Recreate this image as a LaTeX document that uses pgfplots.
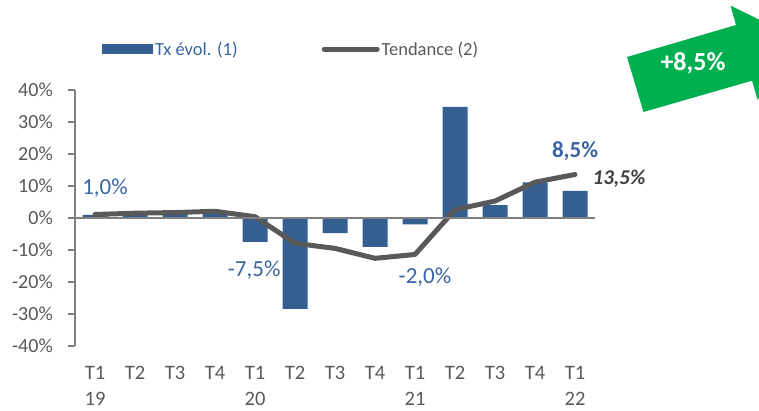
\documentclass[border=0pt]{standalone}
\usepackage{pgfplots}
\pgfplotsset{compat=1.18}
\usepackage{fontspec}
\setmainfont{Carlito}
\definecolor{barblue}{HTML}{365F91}
\definecolor{trendgray}{HTML}{595959}
\definecolor{axgray}{HTML}{808080}
\definecolor{txtgray}{HTML}{595959}
\definecolor{labblue}{HTML}{3A64A0}
\definecolor{arrgreen}{HTML}{00B050}
\begin{document}
\begin{tikzpicture}[x=1pt,y=1pt]
\useasboundingbox (0,0) rectangle (759,411);
\begin{axis}[
  at={(75pt,65pt)}, anchor=south west,
  scale only axis, width=520pt, height=256pt,
  xmin=-0.5, xmax=12.5, ymin=-40, ymax=40,
  axis y line*=left, axis x line*=bottom,
  x axis line style={draw=none},
  y axis line style={draw=axgray, line width=2pt, -},
  xtick={0,...,12},
  xticklabels={{T1\\19},T2,T3,T4,{T1\\20},T2,T3,T4,{T1\\21},T2,T3,T4,{T1\\22}},
  xtick style={draw=none},
  xticklabel style={font=\fontsize{20.5}{26}\selectfont, text=txtgray, align=center, inner sep=0pt, anchor=north, yshift=-13pt},
  ytick={-40,-30,...,40},
  yticklabels={-40\%,-30\%,-20\%,-10\%,0\%,10\%,20\%,30\%,40\%},
  ytick style={draw=axgray, line width=2pt},
  tick align=outside, major tick length=7pt,
  yticklabel style={font=\fontsize{20}{24}\selectfont, text=txtgray, inner sep=0pt, xshift=-15pt},
  clip=false,
  legend columns=2,
  legend style={at={(0.0519,1.16)}, anchor=west, draw=none, fill=none, inner sep=0pt,
    font=\fontsize{18.5}{22}\selectfont, text=txtgray,
    /tikz/every even column/.append style={column sep=82pt}},
  legend cell align=left,
]
\addplot[ybar, bar width=25pt, fill=barblue, draw=none,
  legend image code/.code={\fill[barblue] (0pt,-5pt) rectangle (51pt,5pt);}]
  coordinates {(0,1.0) (1,1.0) (2,1.5) (3,1.5) (4,-7.5) (5,-28.4) (6,-4.7) (7,-9.0) (8,-2.0) (9,34.7) (10,4.0) (11,11.1) (12,8.5)};
\addlegendentry{\textcolor{labblue}{Tx évol. (1)}}
\addplot[trendgray, line width=5pt, line join=round, line cap=round,
  legend image code/.code={\draw[trendgray, line width=5pt, line cap=round] (2pt,0pt) -- (55pt,0pt);}]
  coordinates {(0,1.1) (1,1.5) (2,1.7) (3,2.1) (4,0.4) (5,-7.9) (6,-9.5) (7,-12.6) (8,-11.4) (9,2.6) (10,5.3) (11,11.2) (12,13.6)};
\addlegendentry{Tendance (2)}
\draw[axgray, line width=2pt] (axis cs:-0.5,0) -- (axis cs:12.5,0);
\node[font=\fontsize{23}{23}\selectfont, text=labblue] at (axis cs:0.25,9.4) {1,0\%};
\node[font=\fontsize{23}{23}\selectfont, text=labblue] at (axis cs:3.98,-16.2) {-7,5\%};
\node[font=\fontsize{23}{23}\selectfont, text=labblue] at (axis cs:8.25,-18.4) {-2,0\%};
\node[font=\fontsize{23}{23}\selectfont\bfseries, text=labblue] at (axis cs:12,20.9) {8,5\%};
\node[font=\fontsize{21}{21}\selectfont\bfseries\itshape, text=black!75] at (axis cs:13.1,12.2) {13,5\%};
\end{axis}
\begin{scope}
\clip (0,0) rectangle (759,411);
\fill[arrgreen] (627,354) -- (736,386) -- (730.6,405.3) -- (797,373) -- (757.6,311.1) -- (752.1,330.3) -- (643.5,299) -- cycle;
\end{scope}
\node[font=\fontsize{26}{26}\selectfont\bfseries, text=white] at (693,348) {+8,5\%};
\end{tikzpicture}
\end{document}
